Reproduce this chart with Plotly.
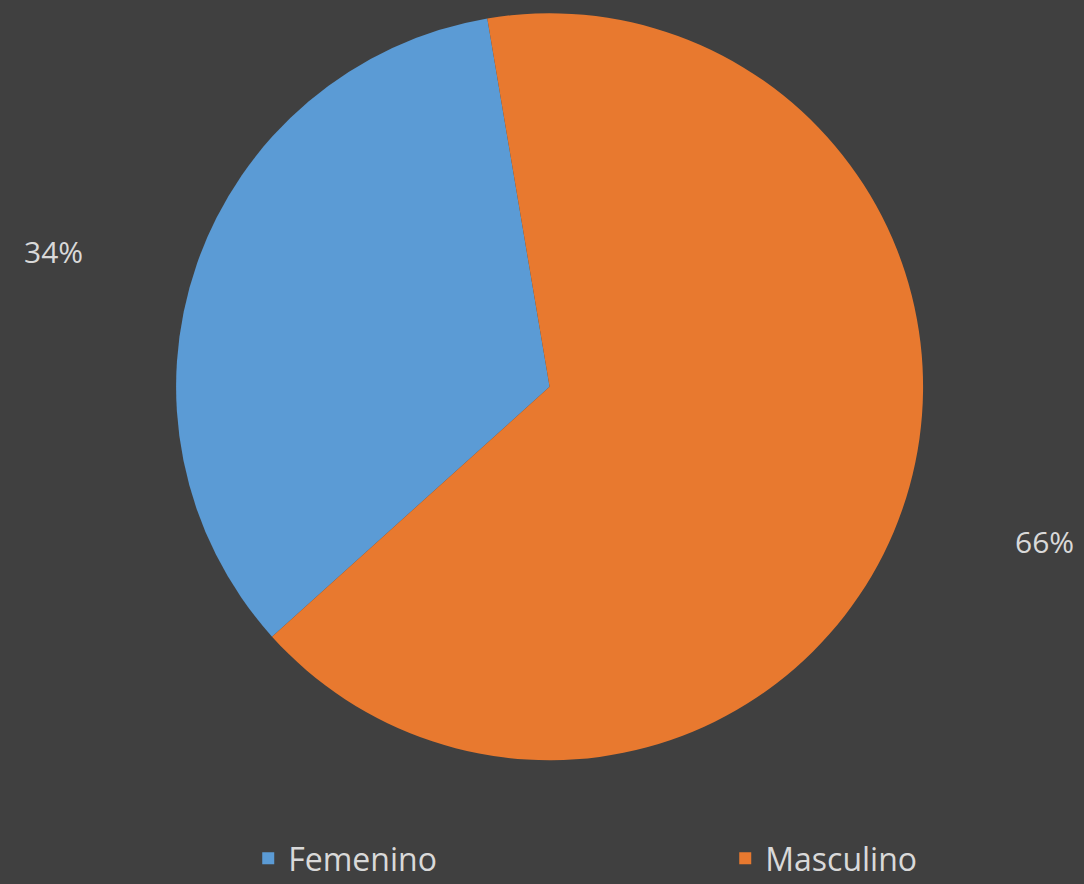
import plotly.graph_objects as go

labels = ["Femenino", "Masculino"]
values = [34, 66]
colors = ["#5b9bd5", "#e8792f"]

total = sum(values)
pct_text = [f"{round(v * 100 / total)}%" for v in values]

fig = go.Figure()
fig.add_trace(go.Pie(
    labels=labels,
    values=values,
    sort=False,
    direction="clockwise",
    rotation=-132,
    marker=dict(colors=colors, line=dict(color="#3a3a3a", width=0)),
    textinfo="none",
    hoverinfo="label+percent",
    domain=dict(x=[0.107, 0.907], y=[0.140, 0.985]),
    showlegend=True,
))

# percentage labels placed outside the slices (like the reference)
label_pos = [(0.049, 0.715), (0.964, 0.387)]
for t, (px, py) in zip(pct_text, label_pos):
    fig.add_annotation(x=px, y=py, xref="paper", yref="paper", text=t,
                       xanchor="center", yanchor="middle",
                       showarrow=False, font=dict(size=30, color="#d9d9d9",
                                                  family="Open Sans"))

fig.update_layout(
    width=1084, height=884,
    paper_bgcolor="#404040",
    plot_bgcolor="#404040",
    margin=dict(l=0, r=0, t=0, b=0, autoexpand=False),
    font=dict(family="Open Sans", color="#d9d9d9"),
    legend=dict(orientation="h", x=0.229, xanchor="left", y=0.029, yanchor="middle",
                font=dict(size=32, color="#d9d9d9"), entrywidth=432,
                bgcolor="rgba(0,0,0,0)"),
)

fig.write_html("out.html", config={"displayModeBar": False},
               post_script="document.body.style.margin='0';")
